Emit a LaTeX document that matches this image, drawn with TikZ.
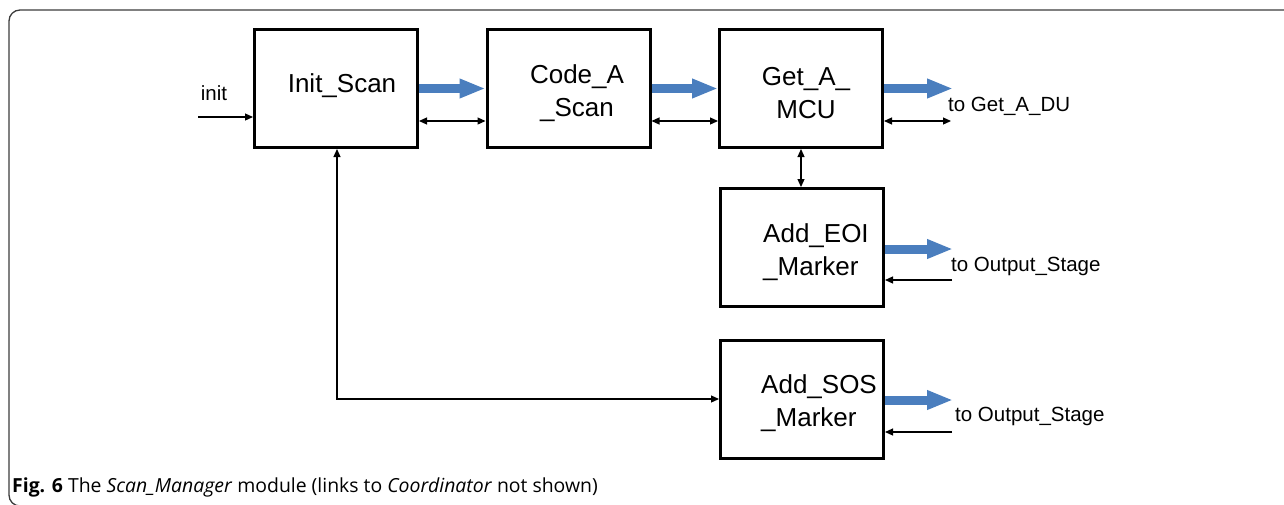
\documentclass[tikz,border=0pt]{standalone}
\usepackage{fontspec}
\setmainfont{Liberation Sans}
\newfontfamily\capfont{Open Sans}
\usetikzlibrary{arrows.meta}
\definecolor{flowblue}{RGB}{74,126,190}
\definecolor{framegray}{RGB}{60,60,60}
\begin{document}
\begin{tikzpicture}[x=1pt,y=-1pt,
  blk/.style={draw, line width=3pt, minimum width=163pt, minimum height=118pt, inner sep=0pt},
  boxtext/.style={inner sep=0pt, font=\fontsize{26}{32.5}\selectfont},
  lbl/.style={inner sep=0pt, anchor=west, font=\fontsize{20.5}{24}\selectfont},
  flow/.style={draw=flowblue, line width=9pt, -{Triangle[length=26pt,width=18pt]}, shorten >=0pt},
  dbl/.style={line width=1.2pt, {Triangle[length=8pt,width=7pt]}-{Triangle[length=8pt,width=7pt]}},
  sgl/.style={line width=1.2pt, -{Triangle[length=8pt,width=7pt]}}]
\useasboundingbox (0,0) rectangle (1284,504);
\clip (0,0) rectangle (1284,504);
% frame
\draw[framegray, line width=1.3pt, rounded corners=11pt] (1300,10) -- (9,10) -- (9,506) -- (40,506);

% boxes
\node[blk] (init) at (336,88.5) {};
\node[blk] (code) at (568.5,88.5) {};
\node[blk] (get)  at (801,88.5) {};
\node[blk] (eoi)  at (802,247.5) {};
\node[blk] (sos)  at (802,399) {};

% box texts
\node[boxtext] (tinit) at (342,86) {Init\_Scan};
\node[boxtext, align=center] (tcode) at (577,93) {Code\_A\\\_Scan};
\node[boxtext, align=center] (tget) at (806,93) {Get\_A\_\\MCU};
\node[boxtext, align=left, anchor=west] (teoi) at (763,252) {Add\_EOI\\\_Marker};
\node[boxtext, align=left, anchor=west] (tsos) at (761,403) {Add\_SOS\\\_Marker};

% input
\coordinate (initin) at (198,117);
\node[inner sep=0pt, font=\fontsize{20.5}{24}\selectfont] (tinitlbl) at (214,93) {init};
\draw[sgl] (initin) -- (initin -| init.west);

% main flow
\draw[flow] (init.east) -- (code.west);
\draw[flow] (code.east) -- (get.west);
\draw[dbl] ([yshift=-32.5pt]init.east) -- ([yshift=-32.5pt]code.west);
\draw[dbl] ([yshift=-32.5pt]code.east) -- ([yshift=-32.5pt]get.west);

% Get_A_MCU outputs
\coordinate (gout) at (953,88.5);
\coordinate (gdbl) at (951,121);
\draw[flow] (get.east) -- (gout);
\draw[dbl] (get.east |- gdbl) -- (gdbl);
\node[lbl] (tgout) at (948,106) {to Get\_A\_DU};

% Get to EOI
\draw[dbl] (get.south) -- (get.south |- eoi.north);

% EOI outputs
\coordinate (eout) at (953,249);
\coordinate (eret) at (952,280);
\draw[flow] (eoi.east |- eout) -- (eout);
\draw[sgl] (eret) -- (eret -| eoi.east);
\node[lbl] (teout) at (951,266) {to Output\_Stage};

% SOS outputs
\coordinate (sout) at (953,400);
\coordinate (sret) at (952,432);
\draw[flow] (sos.east |- sout) -- (sout);
\draw[sgl] (sret) -- (sret -| sos.east);
\node[lbl] (tsout) at (955,416) {to Output\_Stage};

% feedback Init_Scan <-> Add_SOS
\draw[dbl] ([xshift=1pt]init.south) |- (sos.west);

% caption
\node[inner sep=0pt, anchor=west] (cap) at (12,487) {\capfont\fontsize{19.4}{22}\selectfont\textbf{Fig. 6} The \textit{Scan\_Manager} module (links to \textit{Coordinator} not shown)};
\end{tikzpicture}
\end{document}
